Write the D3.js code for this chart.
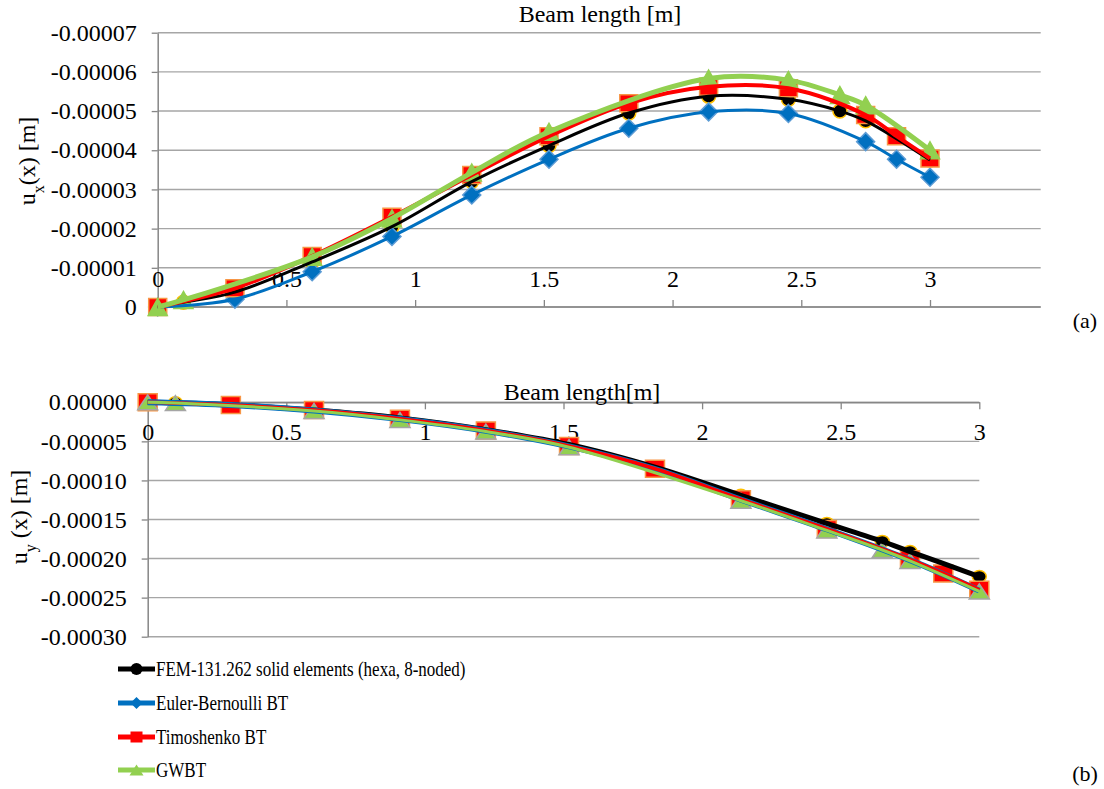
<!DOCTYPE html>
<html>
<head>
<meta charset="utf-8">
<script src="https://cdn.jsdelivr.net/npm/d3@7"></script>
<style>
  body { margin: 0; background: #fff; }
  svg text { font-family: "Liberation Serif", "Times New Roman", serif !important; fill: #000; }
</style>
</head>
<body>
<svg class="chart"></svg>
<script>
// ---- data (displacements in units of 1e-5 m) ----
const seriesNames = ['FEM-131.262 solid elements (hexa, 8-noded)', 'Euler-Bernoulli BT', 'Timoshenko BT', 'GWBT'];

const xFEM  = [0, 0.1, 0.3, 0.6, 0.91, 1.22, 1.52, 1.83, 2.14, 2.45, 2.65, 2.75, 3.0];
const xEB   = [0, 0.3, 0.6, 0.91, 1.22, 1.52, 1.83, 2.14, 2.45, 2.75, 2.87, 3.0];
const xTimo = [0, 0.3, 0.6, 0.91, 1.22, 1.52, 1.83, 2.14, 2.45, 2.75, 2.87, 3.0];
const xGWBT = [0, 0.1, 0.6, 0.91, 1.22, 1.52, 2.14, 2.45, 2.65, 2.75, 3.0];

// (a) axial displacement u_x
const uxFEM  = [0, -0.12, -0.38, -1.15, -2.05, -3.2, -4.12, -4.95, -5.38, -5.3, -5.0, -4.75, -3.75];
const uxEB   = [0, -0.2, -0.9, -1.8, -2.86, -3.77, -4.56, -4.98, -4.94, -4.22, -3.77, -3.31];
const uxTimo = [0, -0.48, -1.3, -2.3, -3.37, -4.36, -5.2, -5.62, -5.58, -4.9, -4.36, -3.79];
const uxGWBT = [0, -0.18, -1.28, -2.26, -3.43, -4.47, -5.83, -5.79, -5.41, -5.15, -4.0];

// (b) transverse displacement u_y
const uyFEM  = [0, -0.05, -0.3, -1.0, -2.0, -3.5, -5.4, -8.3, -11.9, -15.5, -17.8, -19.1, -22.3];
const uyEB   = [0, -0.35, -1.05, -2.15, -3.65, -5.65, -8.55, -12.45, -16.25, -20.2, -22.0, -24.1];
const uyTimo = [0, -0.35, -1.0, -2.1, -3.6, -5.6, -8.5, -12.4, -16.2, -20.1, -21.9, -24.0];
const uyGWBT = [0, -0.1, -1.1, -2.25, -3.75, -5.75, -12.6, -16.4, -18.9, -20.3, -24.2];

const xTicks  = [0, 0.5, 1, 1.5, 2, 2.5, 3];
const yTicksA = [0, -1, -2, -3, -4, -5, -6, -7];
const yTicksB = [0, -5, -10, -15, -20, -25, -30];

const colors  = ['#000000', '#0070c0', '#ff0000', '#92d050'];
const strokes = ['#ffc000', '#5b9bd5', '#f79646', '#92d050'];
const serif = '"Liberation Serif", "Times New Roman", serif';

const width = 1104, height = 789;
const svg = d3.select('.chart').attr('width', width).attr('height', height)
  .style('font-family', serif);
svg.append('rect').attr('width', width).attr('height', height).attr('fill', '#fff');

const zip = (xs, ys) => xs.map((x, i) => ({x: x, y: ys[i] * 1e-5}));

// marker paths centred on 0,0 with width w and height h
function markerPath(kind, w, h) {
  const a = w / 2, b = h / 2;
  if (kind === 0) {
    return 'M' + (-a) + ',0A' + a + ',' + b + ' 0 1,0 ' + a + ',0A' + a + ',' + b + ' 0 1,0 ' + (-a) + ',0Z';
  } else if (kind === 1) {
    return 'M0,' + (-b) + 'L' + a + ',0L0,' + b + 'L' + (-a) + ',0Z';
  } else if (kind === 2) {
    return 'M' + (-a) + ',' + (-b) + 'H' + a + 'V' + b + 'H' + (-a) + 'Z';
  }
  return 'M0,' + (-b) + 'L' + a + ',' + b + 'H' + (-a) + 'Z';
}

function drawChart(opt) {
  const g = svg.append('g');
  const x = d3.scaleLinear().domain(opt.xDomain).range(opt.xRange);
  const y = d3.scaleLinear().domain([0, opt.yMin]).range(opt.yRange);

  // gridlines
  g.selectAll('.grid')
    .data(opt.yTicks.map(v => v * 1e-5))
    .enter().append('line')
    .attr('x1', opt.xRange[0]).attr('x2', opt.xRange[1])
    .attr('y1', d => y(d)).attr('y2', d => y(d))
    .attr('stroke', '#a6a6a6').attr('stroke-width', 1.4);

  // y axis
  const yAxis = g.append('g')
    .attr('transform', 'translate(' + opt.xRange[0] + ',0)')
    .call(d3.axisLeft(y).tickValues(opt.yTicks.map(v => v * 1e-5))
      .tickFormat(opt.yFormat).tickSize(6).tickSizeOuter(0).tickPadding(15));

  // x axis
  const xAx = opt.xTop ? d3.axisBottom(x) : d3.axisTop(x);
  const xAxis = g.append('g')
    .attr('transform', 'translate(0,' + opt.yRange[0] + ')')
    .call(xAx.tickValues(xTicks).tickFormat(d3.format('~g')).tickSize(7).tickSizeOuter(0).tickPadding(opt.xTop ? 14 : 13));
  if (!opt.xTop) xAxis.select('.domain').attr('d', 'M' + opt.xRange[0] + ',0H' + opt.xRange[1]);

  [yAxis, xAxis].forEach(ax => {
    ax.attr('font-family', serif);
    ax.selectAll('text').style('font-size', '24px').style('font-family', serif);
    ax.select('.domain').attr('stroke', '#868686').attr('stroke-width', 1.5);
    ax.selectAll('.tick line').attr('stroke', '#868686').attr('stroke-width', 1.3);
  });

  // markers first, lines drawn over them
  opt.series.forEach((s, i) => {
    g.selectAll('.m' + i)
      .data(s)
      .enter().append('path')
      .attr('d', markerPath(i, opt.mw[i], opt.mh[i]))
      .attr('transform', d => 'translate(' + x(d.x) + ',' + y(d.y) + ')')
      .attr('fill', colors[i])
      .attr('stroke', opt.mStroke[i]).attr('stroke-width', 1.5);
  });

  const line = d3.line().x(d => x(d.x)).y(d => y(d.y)).curve(d3.curveCatmullRom.alpha(0.5));
  opt.series.forEach((s, i) => {
    g.append('path')
      .datum(s)
      .attr('d', line)
      .attr('fill', 'none')
      .attr('stroke', colors[i])
      .attr('stroke-width', opt.lw[i])
      .attr('stroke-linejoin', 'round');
  });

  g.append('text')
    .attr('x', opt.titleX).attr('y', opt.titleY)
    .style('font-size', '24px').style('text-anchor', 'middle')
    .text(opt.title);

  const yl = g.append('text')
    .attr('transform', 'translate(' + opt.ylabX + ',' + opt.ylabY + ') rotate(-90)')
    .style('font-size', '24px').style('text-anchor', 'middle');
  yl.append('tspan').text('u');
  yl.append('tspan').attr('baseline-shift', 'sub').style('font-size', '16px').text(opt.sub);
  yl.append('tspan').text(opt.ylabRest);

  g.append('text')
    .attr('x', 1085).attr('y', opt.tagY)
    .style('font-size', '22px').style('text-anchor', 'middle')
    .text(opt.tag);
}

drawChart({
  xDomain: [0, 3.43], xRange: [157.7, 1040.7],
  yMin: -7e-5, yRange: [307, 32.7],
  yTicks: yTicksA,
  yFormat: v => v === 0 ? '0' : v.toFixed(5),
  xTop: false,
  series: [zip(xFEM, uxFEM), zip(xEB, uxEB), zip(xTimo, uxTimo), zip(xGWBT, uxGWBT)],
  mw: [14, 18, 18, 19], mh: [14, 18, 17, 17],
  mStroke: strokes,
  lw: [3, 3, 4, 5],
  title: 'Beam length [m]', titleX: 600, titleY: 22,
  ylabX: 35, ylabY: 161, sub: 'x', ylabRest: '(x) [m]',
  tag: '(a)', tagY: 328
});

drawChart({
  xDomain: [0, 3], xRange: [147.7, 979.3],
  yMin: -30e-5, yRange: [402.3, 636.7],
  yTicks: yTicksB,
  yFormat: v => Math.abs(v) < 1e-12 ? '0.00000' : v.toFixed(5),
  xTop: true,
  series: [zip(xFEM, uyFEM), zip(xEB, uyEB), zip(xTimo, uyTimo), zip(xGWBT, uyGWBT)],
  mw: [14, 16, 19, 20], mh: [12, 14, 17, 15],
  mStroke: ['#ffc000', '#5b9bd5', '#f79646', '#a5a5a5'],
  lw: [5, 6, 3.5, 3],
  title: 'Beam length[m]', titleX: 582, titleY: 400,
  ylabX: 27, ylabY: 517, sub: 'y', ylabRest: ' (x) [m]',
  tag: '(b)', tagY: 781
});

// legend
const legendY = [669, 703, 737, 770];
const legendMw = [12, 12, 12, 14];
const legendMh = [12, 12, 11, 11];
const legend = svg.append('g');
seriesNames.forEach((name, i) => {
  const row = legend.append('g').attr('transform', 'translate(0,' + legendY[i] + ')');
  row.append('line').attr('x1', 118).attr('x2', 155).attr('y1', 0).attr('y2', 0)
    .attr('stroke', colors[i]).attr('stroke-width', 5);
  row.append('path')
    .attr('d', markerPath(i, legendMw[i], legendMh[i]))
    .attr('transform', 'translate(136.5,0)')
    .attr('fill', colors[i]);
  row.append('text')
    .attr('transform', 'translate(156,7) scale(0.85,1)')
    .style('font-size', '20px')
    .text(name);
});
</script>
</body>
</html>
